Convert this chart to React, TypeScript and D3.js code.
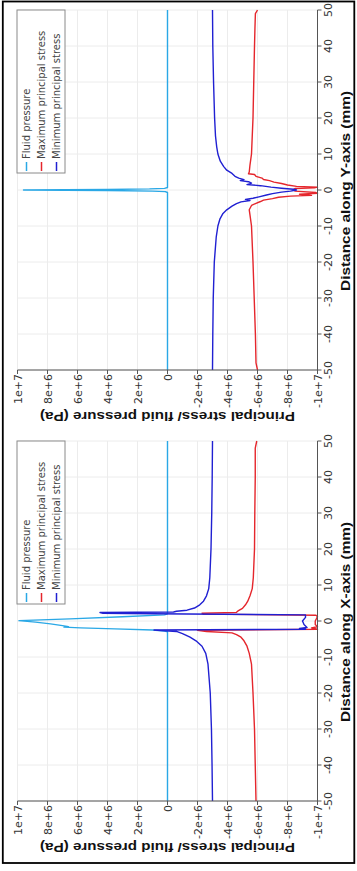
import React from "react";
import * as d3 from "d3";

const W = 357;
const H = 871;

const stressTicks = [1e7, 8e6, 6e6, 4e6, 2e6, 0, -2e6, -4e6, -6e6, -8e6, -1e7];
const stressTickLabels = ["1e+7", "8e+6", "6e+6", "4e+6", "2e+6", "0", "-2e+6", "-4e+6", "-6e+6", "-8e+6", "-1e+7"];
const distanceTicks = [-50, -40, -30, -20, -10, 0, 10, 20, 30, 40, 50];
const distanceTickLabels = ["-50", "-40", "-30", "-20", "-10", "0", "10", "20", "30", "40", "50"];
const seriesNames = ["Fluid pressure", "Maximum principal stress", "Minimum principal stress"];
const seriesColors = ["#2aa8e6", "#e5262c", "#2020d2"];
const distanceTitles = ["Distance along Y-axis (mm)", "Distance along X-axis (mm)"];
const valueTitle = "Principal stress/ fluid pressure (Pa)";

// [distance (mm), value (Pa)] — panel along Y-axis
const fluidY: [number, number][] = [
  [50, 0], [0.7, 0], [0.45, 0.2e6], [0.3, 1.2e6], [0.15, 4e6], [0, 9.6e6], [-0.15, 4e6], [-0.3, 1.0e6], [-0.45, 0.15e6], [-0.7, 0], [-50, 0],
];
const maxY: [number, number][] = [
  [50, -6.0e6], [49, -5.86e6], [45, -5.83e6], [40, -5.8e6], [30, -5.75e6], [20, -5.7e6], [15, -5.65e6], [10, -5.6e6],
  [7, -5.5e6], [5, -5.45e6], [4.5, -5.4e6], [4.3, -5.8e6], [3.8, -5.9e6], [3.3, -6.3e6], [2.9, -6.4e6], [2.6, -6.8e6],
  [2.2, -7.1e6], [1.8, -7.6e6], [1.4, -8.0e6], [1.0, -8.6e6], [0.8, -10e6], [0.6, -9.8e6], [0.4, -8.5e6], [0.1, -8.4e6],
  [-0.3, -8.5e6], [-0.7, -9.9e6], [-0.9, -10e6], [-1.2, -8.8e6], [-1.5, -9.6e6], [-1.7, -8.2e6], [-2.0, -7.4e6],
  [-2.4, -7.0e6], [-2.8, -6.4e6], [-3.2, -6.2e6], [-3.7, -5.9e6], [-4.3, -5.6e6], [-5.5, -5.45e6], [-7, -5.5e6],
  [-10, -5.6e6], [-20, -5.7e6], [-30, -5.78e6], [-40, -5.86e6], [-48, -5.9e6], [-50, -6.0e6],
];
const minY: [number, number][] = [
  [50, -3.0e6], [40, -3.02e6], [30, -3.07e6], [20, -3.14e6], [15, -3.2e6], [12, -3.28e6], [10, -3.36e6], [8, -3.52e6],
  [6.5, -3.75e6], [5.5, -3.95e6], [4.6, -4.3e6], [3.8, -4.5e6], [3.3, -4.75e6], [2.9, -5.1e6], [2.6, -4.85e6],
  [2.3, -5.4e6], [1.9, -5.6e6], [1.5, -5.3e6], [1.2, -6.2e6], [0.8, -6.9e6], [0.5, -7.6e6], [0.2, -8.4e6], [0, -8.6e6],
  [-0.3, -8.2e6], [-0.6, -7.6e6], [-1.0, -7.0e6], [-1.4, -6.6e6], [-1.9, -6.1e6], [-2.3, -5.7e6], [-2.6, -5.2e6],
  [-2.9, -5.5e6], [-3.3, -4.9e6], [-3.8, -4.6e6], [-4.5, -4.3e6], [-5.5, -3.95e6], [-6.5, -3.7e6], [-8, -3.5e6],
  [-10, -3.36e6], [-13, -3.25e6], [-20, -3.12e6], [-30, -3.05e6], [-40, -3.02e6], [-50, -3.0e6],
];

// [distance (mm), value (Pa)] — panel along X-axis
const fluidX: [number, number][] = [
  [50, 0], [2.0, 0], [1.7, 0.2e6], [1.2, 3.0e6], [0.6, 6.5e6], [0.1, 9.9e6], [-0.3, 8.8e6], [-0.8, 7.8e6],
  [-1.3, 7.0e6], [-1.6, 6.6e6], [-1.7, 6.9e6], [-1.9, 5.8e6], [-2.2, 3.5e6], [-2.5, 1.0e6], [-2.8, 0.2e6], [-3.0, 0], [-50, 0],
];
const maxX: [number, number][] = [
  [50, -5.95e6], [48, -5.85e6], [40, -5.85e6], [30, -5.82e6], [20, -5.8e6], [12, -5.72e6], [9, -5.65e6], [7, -5.5e6],
  [5.5, -5.35e6], [4.5, -5.2e6], [3.5, -5.0e6], [2.8, -4.7e6], [2.4, -4.6e6], [2.2, -2.3e6], [1.9, -2.4e6],
  [1.6, -9.9e6], [1.2, -10e6], [0, -9.85e6], [-1, -9.85e6], [-1.6, -10e6], [-1.9, -9.6e6], [-2.3, -10e6],
  [-2.6, -2.0e6], [-2.9, -2.6e6], [-3.3, -4.3e6], [-3.8, -4.6e6], [-4.5, -4.9e6], [-5.5, -5.1e6], [-7, -5.3e6],
  [-9, -5.45e6], [-12, -5.6e6], [-20, -5.7e6], [-30, -5.8e6], [-40, -5.85e6], [-50, -5.9e6],
];
const minX: [number, number][] = [
  [50, -3.0e6], [40, -2.98e6], [30, -2.95e6], [20, -2.9e6], [12, -2.82e6], [9, -2.75e6], [7, -2.6e6], [5.5, -2.4e6],
  [4.5, -2.15e6], [3.6, -1.8e6], [3.0, -1.3e6], [2.7, -0.6e6], [2.5, -0.4e6], [2.35, 4.5e6], [2.15, 4.3e6],
  [2.0, 1.0e6], [1.7, -9.2e6], [1.0, -9.2e6], [0, -9.0e6], [-1, -9.1e6], [-1.8, -9.3e6], [-2.1, -8.8e6], [-2.3, -9.2e6],
  [-2.5, 0.9e6], [-2.9, -0.6e6], [-3.5, -1.0e6], [-4.5, -1.5e6], [-5.5, -1.9e6], [-7, -2.3e6], [-9, -2.55e6],
  [-12, -2.7e6], [-20, -2.85e6], [-30, -2.93e6], [-40, -2.97e6], [-50, -3.0e6],
];

const panelSeries = [
  [fluidY, maxY, minY],
  [fluidX, maxX, minX],
];
const panelOffsets = [0, 431];

const tickFont = "'DejaVu Sans', sans-serif";
const titleFont = "'Liberation Sans', Arial, sans-serif";

function Panel({ index }: { index: number }) {
  const oy = panelOffsets[index];
  const x = d3.scaleLinear().domain([-1e7, 1e7]).range([317.5, 17.5]);
  const y = d3.scaleLinear().domain([-50, 50]).range([oy + 370, oy + 10]);
  const line = d3
    .line<[number, number]>()
    .x((d) => x(d[1]))
    .y((d) => y(d[0]));
  const [x0, x1] = x.range();
  const [y0, y1] = y.range();
  return (
    <g>
      {/* grid */}
      {stressTicks.map((t, i) => (
        <line key={"gv" + i} x1={x(t)} x2={x(t)} y1={y1} y2={y0} stroke="#ececec" strokeWidth={1} />
      ))}
      {distanceTicks.map((t, i) => (
        <line key={"gh" + i} x1={x1} x2={x0} y1={y(t)} y2={y(t)} stroke="#ececec" strokeWidth={1} />
      ))}
      {/* series */}
      {panelSeries[index].map((s, i) => (
        <path key={"s" + i} d={line(s) || ""} fill="none" stroke={seriesColors[i]} strokeWidth={1.4} strokeLinejoin="round" />
      ))}
      {/* stress axis */}
      <line x1={x1} x2={x0} y1={y0} y2={y0} stroke="#555" strokeWidth={1} />
      {stressTicks.map((t, i) => (
        <g key={"st" + i}>
          <line x1={x(t)} x2={x(t)} y1={y0} y2={y0 + 4} stroke="#555" strokeWidth={1} />
          <text
            transform={`translate(${x(t) + 4},${y0 + 4}) rotate(-90)`}
            textAnchor="end"
            fontFamily={tickFont}
            fontSize={11}
            fill="#333"
          >
            {stressTickLabels[i]}
          </text>
        </g>
      ))}
      {/* distance axis */}
      <line x1={x0} x2={x0} y1={y1} y2={y0} stroke="#555" strokeWidth={1} />
      {distanceTicks.map((t, i) => (
        <g key={"dt" + i}>
          <line x1={x0} x2={x0 + 4} y1={y(t)} y2={y(t)} stroke="#555" strokeWidth={1} />
          <text
            transform={`translate(${x0 + 14},${y(t)}) rotate(-90)`}
            textAnchor="middle"
            fontFamily={tickFont}
            fontSize={11}
            fill="#333"
          >
            {distanceTickLabels[i]}
          </text>
        </g>
      ))}
      {/* titles */}
      <text
        transform={`translate(${x(0)},${oy + 412}) rotate(180)`}
        textAnchor="middle"
        fontFamily={titleFont}
        fontWeight="bold"
        fontSize={13.5}
        fill="#111"
        textLength={255}
        lengthAdjust="spacingAndGlyphs"
      >
        {valueTitle}
      </text>
      <text
        transform={`translate(349.5,${y(0) + 1}) rotate(-90)`}
        textAnchor="middle"
        fontFamily={titleFont}
        fontWeight="bold"
        fontSize={13.5}
        fill="#111"
        textLength={200}
        lengthAdjust="spacingAndGlyphs"
      >
        {distanceTitles[index]}
      </text>
      {/* legend */}
      <rect x={17} y={oy + 10} width={48} height={163} fill="#fff" stroke="#8a8a8a" strokeWidth={1} />
      {seriesNames.map((n, i) => {
        const cx = 26.5 + 15 * i;
        return (
          <g key={"lg" + i}>
            <line x1={cx} x2={cx} y1={oy + 162} y2={oy + 171} stroke={seriesColors[i]} strokeWidth={1.5} />
            <text
              transform={`translate(${cx + 3},${oy + 159}) rotate(-90)`}
              textAnchor="start"
              fontFamily={tickFont}
              fontSize={10}
              fill="#444"
            >
              {n}
            </text>
          </g>
        );
      })}
    </g>
  );
}

export default function App() {
  return (
    <svg
      width={W}
      height={H}
      style={{ position: "absolute", left: 0, top: 0, background: "#fff" }}
    >
      <rect x={0} y={0} width={W} height={H} fill="#fff" />
      <Panel index={0} />
      <Panel index={1} />
      <rect x={2.8} y={1.5} width={351.5} height={861.5} fill="none" stroke="#000" strokeWidth={1.8} />
    </svg>
  );
}
